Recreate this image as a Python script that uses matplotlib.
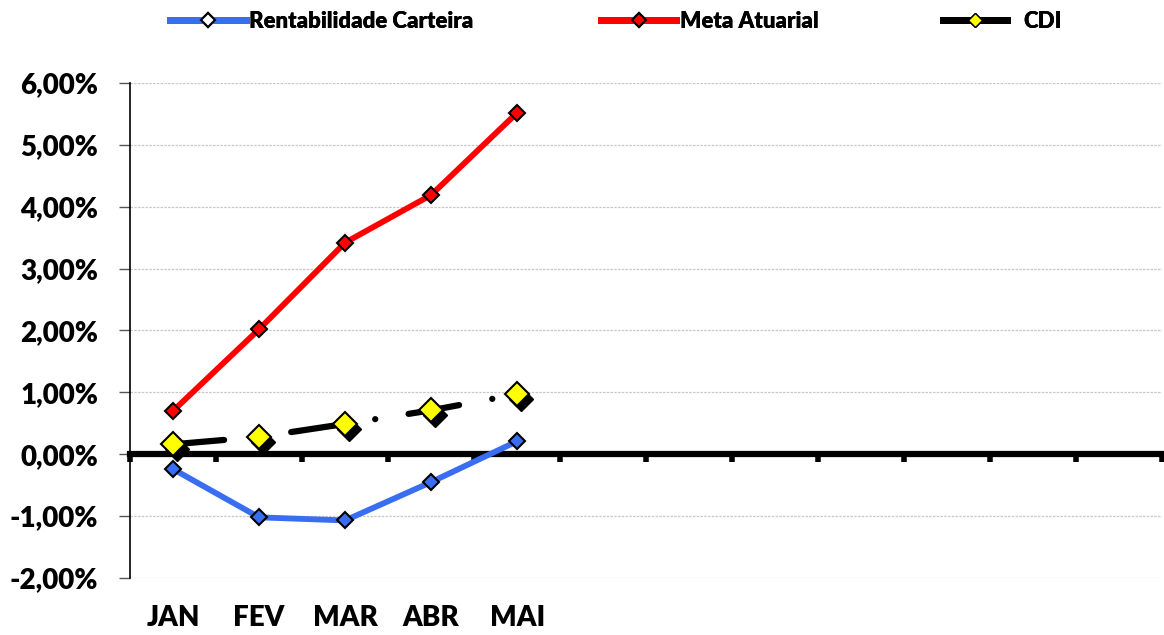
import matplotlib
matplotlib.use('Agg')
from matplotlib import pyplot as plt
from matplotlib import transforms
from matplotlib.lines import Line2D

# * Monthly data (percent); only JAN..MAI available, year axis has 12 slots
months = ['JAN', 'FEV', 'MAR', 'ABR', 'MAI', '', '', '', '', '', '', '']
carteira = [-0.24, -1.02, -1.07, -0.45, 0.21]
meta = [0.70, 2.02, 3.42, 4.19, 5.52]
cdi = [0.16, 0.28, 0.49, 0.71, 0.97]
y_ticks = [-2, -1, 0, 1, 2, 3, 4, 5, 6]
series_names = ['Rentabilidade Carteira', 'Meta Atuarial', 'CDI']

plt.rcParams['font.family'] = ['Lato', 'DejaVu Sans']
plt.rcParams['font.weight'] = 'heavy'

fig = plt.figure(figsize=(11.64, 6.35), dpi=100)
ax = fig.add_axes([0.1117, 0.0898, 0.8870, 0.7795])

x = list(range(len(carteira)))

# * Gridlines (dotted gray)
for v in y_ticks:
    ax.axhline(v, color='#c8c8c8', lw=0.9, ls=(0, (2, 1)), zorder=0)

blue = '#3a6ef2'
ax.plot(x, carteira, color=blue, lw=4.2, marker='D', ms=8,
        mfc=blue, mec='black', mew=1.5, zorder=4)
ax.plot(x, meta, color='#ff0000', lw=4.2, marker='D', ms=8,
        mfc='#ff0000', mec='black', mew=1.5, zorder=4)

# * CDI: dash-dot black line, yellow diamonds with a black shadow
ax.plot(x, cdi, color='black', lw=4.5, ls=(0, (8.2, 5.4, 0.01, 5.4)),
        dash_capstyle='round', zorder=3)
shadow = transforms.offset_copy(ax.transData, fig=fig, x=4, y=-5, units='dots')
ax.plot(x, cdi, ls='none', marker='D', ms=12, mfc='black', mec='black',
        transform=shadow, zorder=4)
ax.plot(x, cdi, ls='none', marker='D', ms=12, mfc='#ffff00', mec='black',
        mew=1.5, zorder=5)

# * Axes styling
ax.set_xlim(-0.5, len(months) - 0.5)
ax.set_ylim(-2, 6)
ax.set_yticks(y_ticks)
ax.set_yticklabels([f'{v:.2f}%'.replace('.', ',') for v in y_ticks],
                   fontsize=20, fontweight='heavy')
ax.tick_params(axis='y', length=8, width=1, color='#555555', pad=15)
for s in ['top', 'right']:
    ax.spines[s].set_visible(False)
ax.spines['left'].set_linewidth(1.2)

ax.spines['bottom'].set_position(('data', 0))
ax.spines['bottom'].set_linewidth(4.5)
ax.spines['bottom'].set_zorder(2)
ax.set_xticks([i - 0.5 for i in range(len(months) + 1)])
ax.set_xticklabels([])
ax.tick_params(axis='x', length=6, width=4, direction='out', color='black')

xlab = transforms.blended_transform_factory(ax.transData, ax.transAxes)
for i, m in enumerate(months):
    ax.text(i, -0.08, m, transform=xlab, ha='center', va='center',
            fontsize=20, fontweight='heavy')

# * Legend: three separate entries placed across the top
handles = [
    Line2D([], [], color=blue, lw=5, marker='D', ms=7, mfc='white', mec='black', mew=1.5),
    Line2D([], [], color='#ff0000', lw=5, marker='D', ms=7, mfc='#ff0000', mec='black', mew=1.5),
    Line2D([], [], color='black', lw=5, marker='D', ms=7, mfc='#ffff00', mec='black', mew=1),
]
legend_x = [0.129, 0.499, 0.793]
hlen = [3.4, 3.4, 2.9]
hpad = [0.15, 0.15, 0.7]
for h, name, lx, hl, hp in zip(handles, series_names, legend_x, hlen, hpad):
    leg = fig.legend([h], [name], loc='upper left', bbox_to_anchor=(lx, 1.014),
                     frameon=False, handlelength=hl, handletextpad=hp,
                     prop={'size': 16, 'weight': 'heavy'})
    fig.add_artist(leg)

fig.savefig('out.png', dpi=100)
